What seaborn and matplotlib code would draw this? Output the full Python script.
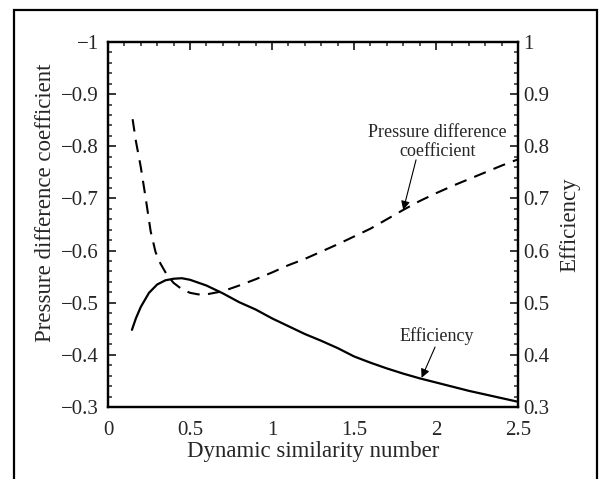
import matplotlib
matplotlib.use("Agg")
import matplotlib.pyplot as plt
import seaborn as sns
import pandas as pd
from matplotlib.patches import Rectangle
from matplotlib.ticker import MultipleLocator

# Data
x_pd = [0.15, 0.17, 0.2, 0.23, 0.26, 0.29, 0.32, 0.36, 0.4, 0.45, 0.5, 0.55, 0.6, 0.7, 0.8, 0.9,
        1.0, 1.1, 1.2, 1.3, 1.4, 1.5, 1.6, 1.7, 1.8, 1.9, 2.0, 2.1, 2.2, 2.3, 2.4, 2.5]
pd_coef = [-0.852, -0.81, -0.76, -0.70, -0.637, -0.597, -0.575, -0.553, -0.538, -0.526, -0.519,
           -0.516, -0.516, -0.522, -0.533, -0.545, -0.558, -0.572, -0.584, -0.598, -0.612, -0.627,
           -0.642, -0.66, -0.678, -0.695, -0.71, -0.724, -0.737, -0.75, -0.763, -0.775]
x_eff = [0.146, 0.17, 0.2, 0.25, 0.3, 0.35, 0.4, 0.45, 0.5, 0.6, 0.7, 0.8, 0.9, 1.0, 1.1, 1.2,
         1.3, 1.4, 1.5, 1.6, 1.7, 1.8, 1.9, 2.0, 2.1, 2.2, 2.3, 2.4, 2.5]
eff = [0.448, 0.47, 0.492, 0.519, 0.535, 0.543, 0.546, 0.547, 0.544, 0.533, 0.518, 0.501, 0.487,
       0.470, 0.455, 0.440, 0.427, 0.413, 0.397, 0.385, 0.374, 0.364, 0.355, 0.347, 0.339, 0.331,
       0.324, 0.317, 0.310]

sns.set_style("white")
plt.rcParams['font.family'] = ['Liberation Serif', 'DejaVu Serif']

fig = plt.figure(figsize=(6.01, 4.79), dpi=100)
ax = fig.add_axes([0.1797, 0.1503, 0.862 - 0.1797, 0.9123 - 0.1503])
ax2 = ax.twinx()

df1 = pd.DataFrame({"x": x_pd, "y": pd_coef})
df2 = pd.DataFrame({"x": x_eff, "y": eff})
sns.lineplot(data=df1, x="x", y="y", ax=ax, color="black", linewidth=1.5, sort=False)
ax.lines[0].set_dashes([6, 4])
sns.lineplot(data=df2, x="x", y="y", ax=ax2, color="black", linewidth=1.6, sort=False)

ax.set_xlim(0, 2.5)
ax.set_ylim(-0.3, -1.0)
ax2.set_ylim(0.3, 1.0)

ax.xaxis.set_major_locator(MultipleLocator(0.5))
ax.xaxis.set_minor_locator(MultipleLocator(0.1))
ax.yaxis.set_major_locator(MultipleLocator(0.1))
ax.yaxis.set_minor_locator(MultipleLocator(0.02))
ax2.yaxis.set_major_locator(MultipleLocator(0.1))
ax2.yaxis.set_minor_locator(MultipleLocator(0.02))

def fmt_num(v, pos):
    if abs(v - round(v)) < 1e-9:
        s = f"{int(round(v))}"
    else:
        s = f"{v:.1f}"
    return s.replace('-', '\u2212')

ax.yaxis.set_major_formatter(plt.FuncFormatter(fmt_num))
ax2.yaxis.set_major_formatter(plt.FuncFormatter(fmt_num))
ax.xaxis.set_major_formatter(plt.FuncFormatter(fmt_num))

for a in (ax, ax2):
    for sp in a.spines.values():
        sp.set_linewidth(1.6)
        sp.set_color("black")
        sp.set_visible(True)

ax.tick_params(axis='both', which='major', direction='in', length=6, width=1.3,
               labelsize=15, top=True, right=False)
ax.tick_params(axis='both', which='minor', direction='in', length=3, width=1.1,
               top=True, right=False)
ax.tick_params(axis='x', which='major', pad=10)
ax.tick_params(axis='y', which='major', pad=6.5)
ax2.tick_params(axis='y', which='major', direction='in', length=6, width=1.3,
                labelsize=15, pad=4)
ax2.tick_params(axis='y', which='minor', direction='in', length=3, width=1.1)

ax.set_xlabel("Dynamic similarity number", fontsize=16.5, labelpad=1)
ax.set_ylabel("Pressure difference coefficient", fontsize=16.5, labelpad=5)
ax.yaxis.set_label_coords(-0.128, 0.559)
ax2.set_ylabel("Efficiency", fontsize=16.5, labelpad=7)

ax2.text(2.009, 0.808, "Pressure difference\ncoefficient", ha='center', va='center',
         fontsize=13, linespacing=1.1)
ax2.annotate("", xy=(1.80, 0.678), xytext=(1.878, 0.774),
             arrowprops=dict(arrowstyle='-|>', color='black', lw=0.8,
                             mutation_scale=13, shrinkA=0, shrinkB=0))
ax2.text(2.003, 0.436, "Efficiency", ha='center', va='center', fontsize=13)
ax2.annotate("", xy=(1.912, 0.356), xytext=(1.994, 0.415),
             arrowprops=dict(arrowstyle='-|>', color='black', lw=0.8,
                             mutation_scale=13, shrinkA=0, shrinkB=0))

frame = Rectangle((14 / 601, -0.1), (597 - 14) / 601, 1 - 10 / 479 + 0.1,
                  transform=fig.transFigure, fill=False, edgecolor='black',
                  linewidth=1.6, clip_on=False)
fig.patches.append(frame)

fig.savefig("out.png", dpi=100)
